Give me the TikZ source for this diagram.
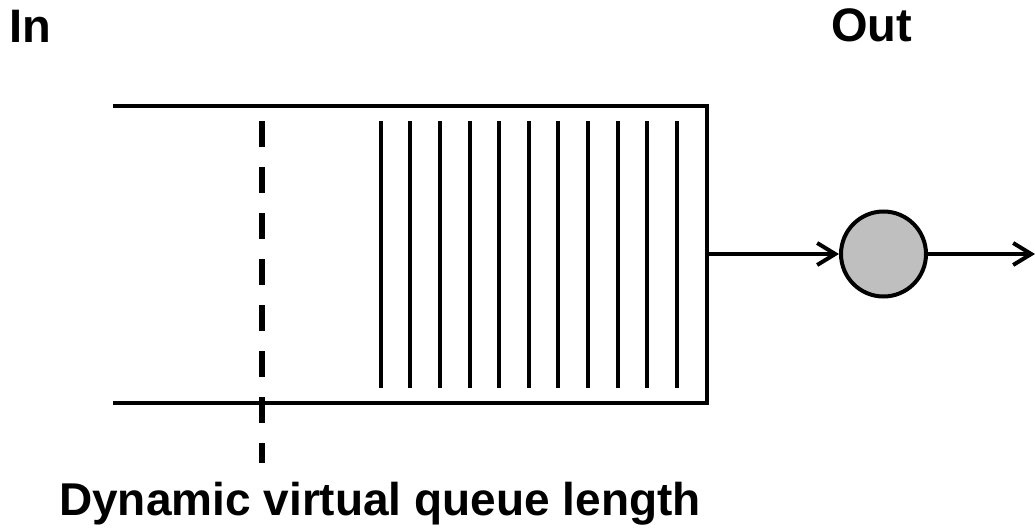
\documentclass[tikz,border=0pt]{standalone}
\usepackage{fontspec}
\setmainfont{Liberation Sans}
\usetikzlibrary{arrows.meta}
\begin{document}
\begin{tikzpicture}[x=1pt,y=-1pt,
  wall/.style={line width=4pt},
  packet/.style={line width=4pt},
  vq/.style={line width=6pt, dash pattern=on 26pt off 20pt},
  flow/.style={line width=4pt, -{Straight Barb[length=18pt,width=22pt,line width=4pt]}},
  server/.style={circle, draw, line width=4pt, fill=gray!50, minimum size=85pt, inner sep=0pt},
  lbl/.style={font=\bfseries\fontsize{47}{50}\selectfont, inner sep=0pt, anchor=base west}]
\useasboundingbox (0,0) rectangle (1035,529);
% queue walls
\coordinate (tl) at (113,106);
\coordinate (tr) at (707,106);
\coordinate (bl) at (113,403);
\coordinate (br) at (707,403);
\draw[wall] (tl) -- (tr) -- (br) -- (bl);
% packets
\foreach \i in {0,...,10}{
  \draw[packet] ({380.7+\i*29.6},121) -- ({380.7+\i*29.6},388);
}
% virtual queue marker
\coordinate (vtop) at (262,121);
\coordinate (vbot) at (262,463);
\draw[vq] (vtop) -- (vbot);
% server
\node[server] (srv) at (883.5,254) {};
\coordinate (qout) at (707,254);
\coordinate (outend) at (1035,254);
\draw[flow] (qout) -- (srv.west);
\draw[flow] (srv.east) -- (outend);
% labels
\node[lbl] (in) at (9,43) {In};
\node[lbl] (out) at (831,42) {Out};
\node[lbl, font=\bfseries\fontsize{46}{50}\selectfont] (dvq) at (59,515) {Dynamic virtual queue length};
\end{tikzpicture}
\end{document}
